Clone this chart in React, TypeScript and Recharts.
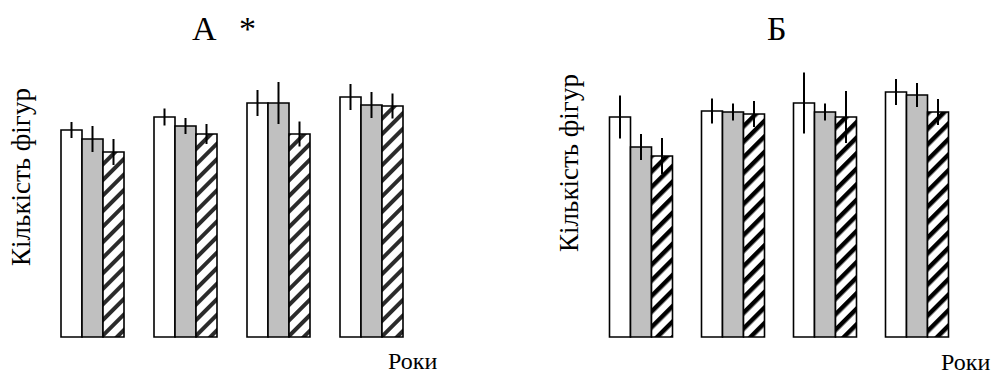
import { BarChart, Bar, XAxis, YAxis, ErrorBar } from "recharts";

// four years per panel, no tick labels on the original
const years = ["1", "2", "3", "4"];

// panel А
const aFirst = [207, 220, 234, 240];
const aFirstErr = [8, 8.5, 13, 13];
const aSecond = [198, 211, 234, 232];
const aSecondErr = [13, 8, 21, 13];
const aThird = [185, 203, 203, 231];
const aThirdErr = [13, 10, 12.5, 12.5];

// panel Б
const bFirst = [220, 226, 234, 245];
const bFirstErr = [21.5, 12.5, 30.5, 13];
const bSecond = [190, 225, 225, 242];
const bSecondErr = [13, 8.5, 8.5, 12];
const bThird = [181, 223, 220, 225];
const bThirdErr = [18, 13, 26, 13];

const FONT = "'Times New Roman', 'Liberation Serif', serif";

function build(s1: number[], e1: number[], s2: number[], e2: number[], s3: number[], e3: number[]) {
  return years.map((y, i) => ({ year: y, v1: s1[i], e1: e1[i], v2: s2[i], e2: e2[i], v3: s3[i], e3: e3[i] }));
}

interface PanelProps {
  id: string;
  data: ReturnType<typeof build>;
  left: number;
  width: number;
  margin: { top: number; right: number; bottom: number; left: number };
  hatchColor: string;
  hatchWidth: number;
}

function Panel({ id, data, left, width, margin, hatchColor, hatchWidth }: PanelProps) {
  return (
    <div style={{ position: "absolute", left, top: 0 }}>
      <BarChart width={width} height={374} data={data} margin={margin} barGap={0} barSize={21}>
        <defs>
          <pattern id={id} patternUnits="userSpaceOnUse" width={11} height={11} patternTransform="rotate(45)">
            <rect x={0} y={0} width={11} height={11} fill="#fff" />
            <rect x={0} y={0} width={hatchWidth} height={11} fill={hatchColor} />
          </pattern>
        </defs>
        <XAxis dataKey="year" hide />
        <YAxis hide domain={[0, 270]} />
        <Bar dataKey="v1" fill="#fff" stroke="#000" strokeWidth={1.6} isAnimationActive={false}>
          <ErrorBar dataKey="e1" width={0} stroke="#000" strokeWidth={2} direction="y" isAnimationActive={false} />
        </Bar>
        <Bar dataKey="v2" fill="#c0c0c0" stroke="#000" strokeWidth={1.6} isAnimationActive={false}>
          <ErrorBar dataKey="e2" width={0} stroke="#000" strokeWidth={2} direction="y" isAnimationActive={false} />
        </Bar>
        <Bar dataKey="v3" fill={`url(#${id})`} stroke="#000" strokeWidth={1.6} isAnimationActive={false}>
          <ErrorBar dataKey="e3" width={0} stroke="#000" strokeWidth={2} direction="y" isAnimationActive={false} />
        </Bar>
      </BarChart>
    </div>
  );
}

export default function App() {
  const dataA = build(aFirst, aFirstErr, aSecond, aSecondErr, aThird, aThirdErr);
  const dataB = build(bFirst, bFirstErr, bSecond, bSecondErr, bThird, bThirdErr);

  return (
    <div style={{ position: "fixed", left: 0, top: 0, width: 998, height: 374, background: "#fff" }}>
      <Panel
        id="hatchA"
        data={dataA}
        left={0}
        width={420}
        margin={{ top: 67, right: 2, bottom: 37, left: 46 }}
        hatchColor="#2b2b2b"
        hatchWidth={4}
      />
      <Panel
        id="hatchB"
        data={dataB}
        left={540}
        width={458}
        margin={{ top: 67, right: 35.5, bottom: 37, left: 54.5 }}
        hatchColor="#000"
        hatchWidth={4.5}
      />
      {/* titles and axis captions */}
      <svg width={998} height={374} style={{ position: "absolute", left: 0, top: 0, pointerEvents: "none", fontFamily: FONT }}>
        <g fill="#000" style={{ fontFamily: FONT }}>
          <text x={192} y={40} fontSize={34}>А</text>
          <text x={239} y={40} fontSize={34}>*</text>
          <text x={767} y={40} fontSize={34}>Б</text>
          <text x={30} y={177} fontSize={27} textAnchor="middle" transform="rotate(-90 30 177)">Кількість фігур</text>
          <text x={578} y={163} fontSize={27} textAnchor="middle" transform="rotate(-90 578 163)">Кількість фігур</text>
          <text x={388} y={369} fontSize={24}>Роки</text>
          <text x={941} y={370} fontSize={24}>Роки</text>
        </g>
      </svg>
    </div>
  );
}
